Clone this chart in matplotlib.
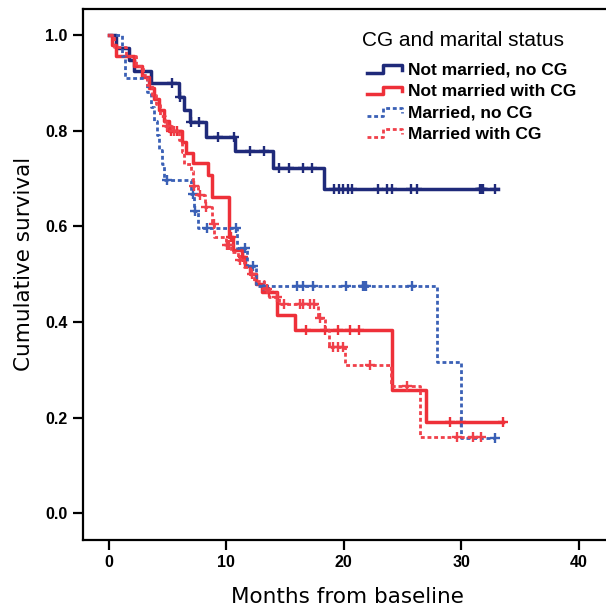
import numpy as np
import matplotlib
matplotlib.use("Agg")
import matplotlib.pyplot as plt
from matplotlib.lines import Line2D
from matplotlib.legend_handler import HandlerLine2D

plt.rcParams['font.family'] = ['Liberation Sans', 'DejaVu Sans']

# Kaplan-Meier curves (months, survival after each event)
nm_nocg_t = [0, 0.6, 1.7, 2.2, 3.6, 5.95, 6.45, 6.9, 8.25, 10.75, 14.0, 18.3]
nm_nocg_s = [1.0, 0.973, 0.948, 0.924, 0.899, 0.871, 0.843, 0.818, 0.787, 0.757, 0.721, 0.677]
nm_nocg_end = 33.1
nm_nocg_cens = [5.36, 6.07, 7.0, 7.7, 9.3, 10.7, 12.06, 13.2, 14.45, 15.3, 16.55, 17.25,
                19.2, 19.6, 19.9, 20.35, 20.7, 22.9, 23.7, 24.1, 25.7, 26.2,
                31.55, 31.65, 31.75, 31.85, 32.85]

nm_cg_t = [0, 0.3, 0.6, 2.2, 2.8, 3.4, 3.9, 4.3, 4.7, 5.1, 6.2, 6.6, 7.2, 8.45, 8.8,
           10.25, 10.6, 11.3, 11.6, 12.0, 12.5, 13.0, 14.3, 15.85, 24.1, 26.95]
nm_cg_s = [1.0, 0.979, 0.955, 0.934, 0.912, 0.889, 0.866, 0.843, 0.82, 0.798, 0.775, 0.753,
           0.732, 0.707, 0.662, 0.578, 0.55, 0.535, 0.516, 0.50, 0.48, 0.462, 0.415, 0.383,
           0.258, 0.1915]
nm_cg_end = 33.55
nm_cg_cens = [5.3, 5.8, 10.4, 11.4, 13.6, 16.8, 18.4, 19.5, 20.5, 21.3, 29.05, 30.0, 33.55]

m_nocg_t = [0, 1.1, 1.4, 3.3, 3.6, 3.9, 4.1, 4.3, 4.5, 4.7, 7.0, 7.3, 7.6, 10.95, 11.8, 12.5,
            27.9, 30.0]
m_nocg_s = [1.0, 0.955, 0.909, 0.88, 0.85, 0.82, 0.79, 0.76, 0.73, 0.697, 0.668, 0.631, 0.596,
            0.554, 0.516, 0.474, 0.317, 0.157]
m_nocg_end = 32.85
m_nocg_cens = [5.0, 7.14, 7.36, 8.4, 10.8, 11.6, 12.3, 13.2, 16.0, 16.5, 17.4, 20.2,
               21.65, 21.75, 21.85, 25.8, 32.85]

m_cg_t = [0, 0.5, 1.5, 2.3, 2.9, 3.3, 3.7, 4.0, 4.4, 4.8, 5.4, 6.0, 6.2, 6.4, 7.0, 7.2, 7.6,
          8.2, 8.8, 9.0, 10.0, 10.4, 11.0, 11.5, 12.0, 12.4, 13.2, 13.6, 14.5, 17.8, 18.4,
          18.7, 20.07, 24.0, 26.5]
m_cg_s = [1.0, 0.975, 0.955, 0.935, 0.915, 0.895, 0.875, 0.855, 0.83, 0.81, 0.80, 0.78, 0.755,
          0.73, 0.715, 0.683, 0.666, 0.64, 0.605, 0.578, 0.56, 0.545, 0.53, 0.515, 0.50,
          0.485, 0.468, 0.453, 0.437, 0.408, 0.383, 0.348, 0.310, 0.266, 0.159]
m_cg_end = 31.7
m_cg_cens = [5.0, 5.6, 7.3, 7.8, 8.3, 8.96, 10.1, 10.2, 11.2, 12.2, 13.5, 14.3, 14.95,
             16.3, 16.5, 17.1, 17.5, 18.0, 19.1, 19.5, 19.9, 22.25, 25.4, 29.6, 31.0, 31.7]

labels = ['Not married, no CG', 'Not married with CG', 'Married, no CG', 'Married with CG']
colors = ['#1f2a7a', '#ee3039', '#3a60b6', '#f0404a']
styles = ['-', '-', (0, (1.4, 1.0)), (0, (1.4, 1.0))]
widths = [2.5, 2.5, 2.0, 2.0]

groups = [
    (nm_nocg_t, nm_nocg_s, nm_nocg_end, nm_nocg_cens),
    (nm_cg_t, nm_cg_s, nm_cg_end, nm_cg_cens),
    (m_nocg_t, m_nocg_s, m_nocg_end, m_nocg_cens),
    (m_cg_t, m_cg_s, m_cg_end, m_cg_cens),
]


class StepHandler(HandlerLine2D):
    # legend key drawn as a small step, like the SPSS output
    def create_artists(self, legend, orig_handle, xdescent, ydescent, width, height,
                       fontsize, trans):
        x0 = -xdescent
        y0 = -ydescent
        xs = [x0, x0 + 0.45 * width, x0 + 0.45 * width, x0 + width, x0 + width]
        ys = [y0 + 0.1 * height, y0 + 0.1 * height, y0 + 0.75 * height,
              y0 + 0.75 * height, y0 + 0.35 * height]
        line = Line2D(xs, ys)
        self.update_prop(line, orig_handle, legend)
        line.set_transform(trans)
        return [line]


fig = plt.figure(figsize=(6.06, 6.08), dpi=100)
ax = fig.add_axes([82.7 / 606, 68 / 608, 1.0 - 82.7 / 606 + 0.01, (540 - 9) / 608])

handles = []
for (t, s, end, cens), lab, col, ls, lw in zip(groups, labels, colors, styles, widths):
    xs = np.array(t + [end])
    ys = np.array(s + [s[-1]])
    h, = ax.step(xs, ys, where='post', color=col, lw=lw, ls=ls, label=lab)
    handles.append(h)
    idx = np.searchsorted(np.array(t), np.array(cens), side='right') - 1
    ax.plot(cens, np.array(s)[idx], ls='none', marker='+', ms=7.5, mew=1.7, color=col)

ax.set_xlim(-2.2, 42.8)
ax.set_ylim(-0.056, 1.054)
ax.set_xticks([0, 10, 20, 30, 40])
ax.set_yticks([0.0, 0.2, 0.4, 0.6, 0.8, 1.0])
ax.set_yticklabels(['0.0', '0.2', '0.4', '0.6', '0.8', '1.0'])
for lab in ax.get_xticklabels() + ax.get_yticklabels():
    lab.set_fontweight('bold')
    lab.set_fontsize(11.5)
ax.tick_params(direction='out', length=7, width=1.6, pad=4)
for sp in ax.spines.values():
    sp.set_linewidth(1.6)
ax.spines['right'].set_visible(False)

ax.set_xlabel('Months from baseline', fontsize=15.5, family=['DejaVu Sans'], labelpad=12)
ax.set_ylabel('Cumulative survival', fontsize=15.5, family=['DejaVu Sans'])
ax.yaxis.set_label_coords(-0.092, 0.52)

fig.text(362 / 606, 1 - 40 / 608, 'CG and marital status', fontsize=15, va='center', ha='left')
leg = fig.legend(handles=handles, labels=labels, loc='upper left',
                 bbox_to_anchor=(355 / 606, 1 - 50 / 608), frameon=False,
                 prop={'weight': 'bold', 'size': 12.5}, handlelength=2.0,
                 handletextpad=0.35, labelspacing=0.36, borderpad=0.2,
                 handler_map={Line2D: StepHandler()})

fig.savefig('out.png', dpi=100)
